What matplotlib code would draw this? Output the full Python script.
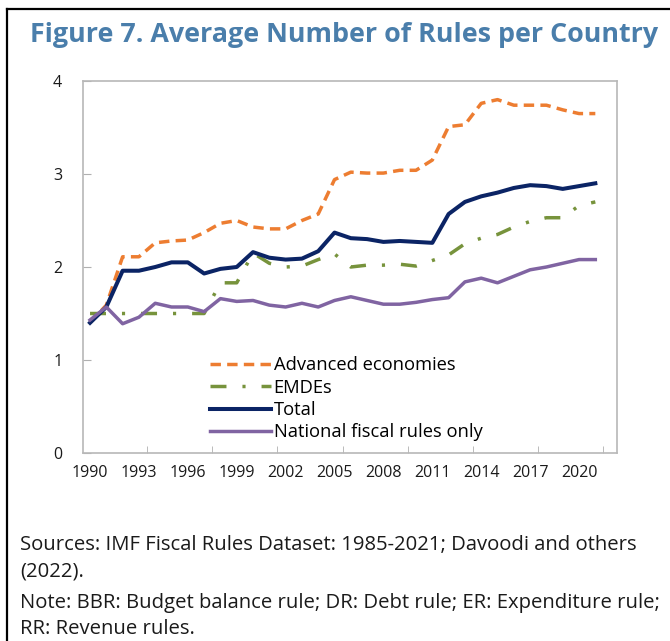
import matplotlib
matplotlib.use("Agg")
import matplotlib.pyplot as plt
from matplotlib.lines import Line2D

plt.rcParams['font.family'] = ['Open Sans', 'DejaVu Sans']

years = list(range(1990, 2022))
advanced = [1.40, 1.59, 2.11, 2.11, 2.26, 2.28, 2.29, 2.37, 2.47, 2.50,
            2.43, 2.41, 2.41, 2.50, 2.57, 2.94, 3.02, 3.01, 3.01, 3.04,
            3.04, 3.15, 3.51, 3.53, 3.76, 3.80, 3.74, 3.74, 3.74, 3.69,
            3.65, 3.65]
emdes = [1.50, 1.50, 1.50, 1.50, 1.50, 1.50, 1.50, 1.50, 1.83, 1.83,
         2.15, 2.04, 2.00, 2.01, 2.08, 2.14, 2.00, 2.02, 2.02, 2.03,
         2.01, 2.07, 2.13, 2.25, 2.31, 2.35, 2.43, 2.49, 2.53, 2.53,
         2.66, 2.70]
total = [1.40, 1.57, 1.96, 1.96, 2.00, 2.05, 2.05, 1.93, 1.98, 2.00,
         2.16, 2.10, 2.08, 2.09, 2.17, 2.37, 2.31, 2.30, 2.27, 2.28,
         2.27, 2.26, 2.57, 2.70, 2.76, 2.80, 2.85, 2.88, 2.87, 2.84,
         2.87, 2.90]
national = [1.43, 1.57, 1.39, 1.46, 1.61, 1.57, 1.57, 1.52, 1.66, 1.63,
            1.64, 1.59, 1.57, 1.61, 1.57, 1.64, 1.68, 1.64, 1.60, 1.60,
            1.62, 1.65, 1.67, 1.84, 1.88, 1.83, 1.90, 1.97, 2.00, 2.04,
            2.08, 2.08]
labels = ["Advanced economies", "EMDEs", "Total", "National fiscal rules only"]
xtick_years = list(range(1990, 2021, 3))
ytick_vals = [0, 1, 2, 3, 4]

fig = plt.figure(figsize=(6.70, 6.41), dpi=100)
ax = fig.add_axes([0.1239, 0.2933, 0.797, 0.5803])

lw = 2.5
ax.plot(years, advanced, color='#ED7D31', lw=lw, ls=(0, (3.0, 1.8)), label=labels[0])
ax.plot(years, emdes, color='#77933C', lw=lw, ls=(0, (4.6, 4.6, 0.9, 4.6)), label=labels[1])
ax.plot(years, total, color='#0B2465', lw=2.9, label=labels[2])
ax.plot(years, national, color='#8064A2', lw=lw, label=labels[3])

ax.set_xlim(1989.57, 2022.33)
ax.set_ylim(0, 4)
ax.set_yticks(ytick_vals)
ax.set_xticks(xtick_years)
ax.set_xticks([1993.5 + 4 * k for k in range(8)], minor=True)
ax.tick_params(axis='x', which='major', length=0, pad=9, labelsize=11.5, colors='#1a1a1a')
ax.tick_params(axis='x', which='minor', direction='in', length=5, color='#b0b0b0')
ax.tick_params(axis='y', direction='in', length=6, color='#b0b0b0', pad=15,
               labelsize=11.5, labelcolor='#1a1a1a')
for s in ax.spines.values():
    s.set_color('#b8b8b8')
    s.set_linewidth(1.2)

ax.legend(loc='upper left', bbox_to_anchor=(0.238, 0.26), frameon=False,
          fontsize=13.2, handlelength=3.3, handletextpad=0.16, labelspacing=0.24,
          borderpad=0, borderaxespad=0)

fig.text(0.045, 0.945, "Figure 7. Average Number of Rules per Country",
         fontsize=19.4, fontweight='bold', color='#4A7EAB', va='center', ha='left')

note_size = 14.6
fig.text(0.03, 1 - 545 / 641, "Sources: IMF Fiscal Rules Dataset: 1985-2021; Davoodi and others",
         fontsize=note_size, color='#1a1a1a', va='center')
fig.text(0.03, 1 - 572 / 641, "(2022).", fontsize=note_size, color='#1a1a1a', va='center')
fig.text(0.03, 1 - 603 / 641, "Note: BBR: Budget balance rule; DR: Debt rule; ER: Expenditure rule;",
         fontsize=note_size, color='#1a1a1a', va='center')
fig.text(0.03, 1 - 629 / 641, "RR: Revenue rules.", fontsize=note_size, color='#1a1a1a', va='center')

# frame lines (top and left) of the figure box
fig.add_artist(Line2D([7 / 670, 1.0], [1 - 9 / 641, 1 - 9 / 641], color='black', lw=1.6,
                      transform=fig.transFigure))
fig.add_artist(Line2D([7 / 670, 7 / 670], [0, 1 - 9 / 641], color='black', lw=1.6,
                      transform=fig.transFigure))

fig.savefig("out.png", dpi=100)
